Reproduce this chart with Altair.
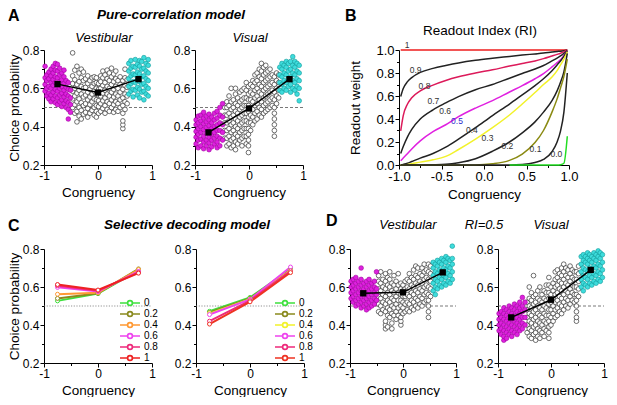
import altair as alt
import pandas as pd

FONT = "Liberation Sans"

# ---------------- Panel A : pure-correlation model (congruency, [choice probabilities]) -------------
A_VEST_MAG = [
    (-0.98, [0.585, 0.62, 0.655, 0.715]),
    (-0.95, [0.56, 0.60, 0.64, 0.67]),
    (-0.91, [0.545, 0.575, 0.61, 0.65, 0.685]),
    (-0.87, [0.53, 0.565, 0.60, 0.63, 0.665, 0.70]),
    (-0.83, [0.545, 0.58, 0.615, 0.645, 0.68, 0.715]),
    (-0.79, [0.525, 0.56, 0.595, 0.63, 0.66, 0.695, 0.73]),
    (-0.75, [0.515, 0.55, 0.585, 0.62, 0.655, 0.69, 0.725]),
    (-0.71, [0.53, 0.565, 0.60, 0.635, 0.67, 0.705]),
    (-0.67, [0.505, 0.54, 0.575, 0.61, 0.645, 0.68]),
    (-0.63, [0.52, 0.555, 0.59, 0.625, 0.66, 0.695]),
    (-0.59, [0.50, 0.535, 0.57, 0.605, 0.64]),
    (-0.55, [0.44, 0.49, 0.525, 0.56, 0.595, 0.63]),
    (-0.51, [0.475, 0.515, 0.55, 0.59]),
]
A_VEST_OPEN = [
    (-0.47, [0.50, 0.545, 0.585, 0.625, 0.665, 0.785]),
    (-0.43, [0.47, 0.515, 0.56, 0.60, 0.645, 0.695]),
    (-0.39, [0.425, 0.48, 0.53, 0.575, 0.62, 0.715]),
    (-0.35, [0.455, 0.50, 0.545, 0.59, 0.635, 0.68]),
    (-0.31, [0.44, 0.485, 0.525, 0.57, 0.61, 0.655, 0.70]),
    (-0.27, [0.465, 0.51, 0.555, 0.60, 0.64, 0.685]),
    (-0.23, [0.475, 0.52, 0.565, 0.605, 0.65]),
    (-0.19, [0.45, 0.495, 0.54, 0.58, 0.625, 0.665]),
    (-0.15, [0.47, 0.515, 0.555, 0.595, 0.64]),
    (-0.11, [0.485, 0.53, 0.57, 0.61, 0.655]),
    (-0.07, [0.46, 0.50, 0.545, 0.585, 0.625, 0.66]),
    (-0.03, [0.45, 0.48, 0.51, 0.54, 0.57, 0.60, 0.63, 0.655]),
    (0.01, [0.47, 0.505, 0.535, 0.565, 0.595, 0.625]),
    (0.05, [0.48, 0.52, 0.56, 0.60, 0.635, 0.665]),
    (0.09, [0.495, 0.535, 0.575, 0.615, 0.655, 0.69]),
    (0.13, [0.47, 0.51, 0.55, 0.59, 0.63, 0.67]),
    (0.17, [0.49, 0.53, 0.57, 0.61, 0.65, 0.695]),
    (0.21, [0.48, 0.52, 0.56, 0.60, 0.64, 0.68]),
    (0.25, [0.50, 0.54, 0.58, 0.62, 0.66, 0.705]),
    (0.29, [0.475, 0.515, 0.555, 0.595, 0.635, 0.675]),
    (0.33, [0.49, 0.53, 0.57, 0.61, 0.65, 0.69]),
    (0.37, [0.48, 0.52, 0.56, 0.60, 0.64]),
    (0.41, [0.50, 0.54, 0.58, 0.62, 0.66]),
    (0.46, [0.39, 0.41, 0.43, 0.47, 0.51, 0.55, 0.595, 0.64]),
    (0.50, [0.49, 0.53, 0.57, 0.615, 0.655, 0.70]),
    (0.54, [0.52, 0.56, 0.605, 0.645]),
]
A_VEST_CYAN = [
    (0.57, [0.57, 0.61, 0.65, 0.69, 0.73]),
    (0.61, [0.585, 0.625, 0.665, 0.705, 0.745]),
    (0.65, [0.555, 0.595, 0.635, 0.675, 0.715]),
    (0.69, [0.59, 0.63, 0.67, 0.71, 0.75]),
    (0.73, [0.565, 0.605, 0.645, 0.685, 0.725]),
    (0.77, [0.55, 0.595, 0.635, 0.675, 0.715, 0.745]),
    (0.81, [0.58, 0.62, 0.66, 0.70, 0.74]),
    (0.85, [0.54, 0.585, 0.625, 0.665, 0.705, 0.76]),
    (0.89, [0.57, 0.61, 0.65, 0.69, 0.73]),
    (0.93, [0.56, 0.60, 0.64, 0.68, 0.72, 0.75]),
]
A_VEST_MEAN = [0.622, 0.578, 0.648]

A_VIS_MAG = [
    (-0.98, [0.31, 0.345, 0.375, 0.41, 0.435]),
    (-0.94, [0.29, 0.33, 0.36, 0.39, 0.42, 0.455]),
    (-0.89, [0.30, 0.335, 0.37, 0.40, 0.43, 0.46]),
    (-0.84, [0.285, 0.32, 0.35, 0.385, 0.415, 0.445, 0.475]),
    (-0.79, [0.30, 0.33, 0.365, 0.395, 0.425, 0.455]),
    (-0.74, [0.28, 0.315, 0.345, 0.375, 0.405, 0.435, 0.465]),
    (-0.69, [0.295, 0.33, 0.36, 0.39, 0.42, 0.45]),
    (-0.64, [0.31, 0.34, 0.37, 0.40, 0.435, 0.47]),
    (-0.59, [0.29, 0.32, 0.35, 0.38, 0.41, 0.445, 0.48]),
    (-0.54, [0.30, 0.34, 0.38, 0.42, 0.46, 0.50]),
    (-0.49, [0.33, 0.37, 0.41, 0.45, 0.52]),
]
A_VIS_OPEN = [
    (-0.45, [0.34, 0.38, 0.42, 0.46, 0.50]),
    (-0.41, [0.30, 0.34, 0.38, 0.42, 0.46, 0.50, 0.53]),
    (-0.37, [0.31, 0.35, 0.39, 0.43, 0.47, 0.51, 0.56]),
    (-0.33, [0.29, 0.33, 0.37, 0.41, 0.45, 0.49, 0.53, 0.60]),
    (-0.29, [0.30, 0.34, 0.38, 0.42, 0.46, 0.50, 0.54]),
    (-0.25, [0.28, 0.32, 0.36, 0.40, 0.44, 0.48, 0.52, 0.57, 0.60]),
    (-0.21, [0.31, 0.35, 0.39, 0.43, 0.47, 0.51, 0.55]),
    (-0.17, [0.33, 0.37, 0.41, 0.45, 0.49, 0.53, 0.58]),
    (-0.13, [0.30, 0.34, 0.38, 0.42, 0.46, 0.50, 0.54, 0.59]),
    (-0.09, [0.35, 0.39, 0.43, 0.47, 0.51, 0.55, 0.60]),
    (-0.05, [0.31, 0.35, 0.39, 0.43, 0.47, 0.51, 0.55, 0.59, 0.63]),
    (-0.01, [0.265, 0.30, 0.33, 0.36, 0.39, 0.42, 0.45, 0.48, 0.51, 0.54, 0.57, 0.61]),
    (0.03, [0.38, 0.42, 0.46, 0.50, 0.54, 0.58, 0.62]),
    (0.07, [0.41, 0.45, 0.49, 0.53, 0.57, 0.61, 0.64]),
    (0.11, [0.43, 0.47, 0.51, 0.55, 0.59, 0.63, 0.67]),
    (0.15, [0.44, 0.48, 0.52, 0.56, 0.60, 0.64, 0.68]),
    (0.19, [0.46, 0.50, 0.54, 0.58, 0.62, 0.66, 0.70]),
    (0.23, [0.45, 0.49, 0.53, 0.57, 0.61, 0.65, 0.69, 0.73]),
    (0.27, [0.47, 0.51, 0.55, 0.59, 0.63, 0.67, 0.71]),
    (0.31, [0.48, 0.52, 0.56, 0.60, 0.64, 0.68, 0.72]),
    (0.35, [0.49, 0.53, 0.57, 0.61, 0.65, 0.69]),
    (0.39, [0.50, 0.54, 0.58, 0.62, 0.66, 0.70]),
    (0.43, [0.51, 0.55, 0.59, 0.63, 0.67]),
    (0.47, [0.35, 0.38, 0.41, 0.44, 0.47, 0.50, 0.54, 0.58, 0.62, 0.66]),
    (0.51, [0.52, 0.56, 0.60, 0.64, 0.68]),
    (0.55, [0.55, 0.59, 0.63, 0.67]),
]
A_VIS_CYAN = [
    (0.57, [0.59, 0.63, 0.67, 0.71]),
    (0.61, [0.58, 0.62, 0.66, 0.70, 0.73]),
    (0.65, [0.60, 0.64, 0.68, 0.72]),
    (0.69, [0.59, 0.63, 0.67, 0.71, 0.74]),
    (0.73, [0.61, 0.65, 0.69, 0.73]),
    (0.77, [0.58, 0.62, 0.66, 0.70, 0.74]),
    (0.81, [0.60, 0.64, 0.68, 0.72, 0.765]),
    (0.85, [0.59, 0.63, 0.67, 0.71, 0.74]),
    (0.89, [0.57, 0.61, 0.65, 0.69, 0.73]),
    (0.93, [0.535, 0.60, 0.64, 0.68, 0.72]),
]
A_VIS_MEAN = [0.37, 0.495, 0.648]

# ---------------- Panel D : RI = 0.5 ----------------
D_VEST_MAG = [
    (-0.98, [0.54, 0.57, 0.60, 0.63]),
    (-0.94, [0.52, 0.55, 0.58, 0.61, 0.64]),
    (-0.89, [0.50, 0.53, 0.56, 0.59, 0.62, 0.65]),
    (-0.84, [0.51, 0.54, 0.57, 0.60, 0.63]),
    (-0.79, [0.49, 0.52, 0.55, 0.58, 0.61, 0.64, 0.70]),
    (-0.74, [0.50, 0.53, 0.56, 0.59, 0.62]),
    (-0.69, [0.48, 0.51, 0.54, 0.57, 0.60, 0.63]),
    (-0.64, [0.49, 0.52, 0.55, 0.58, 0.61, 0.64]),
    (-0.59, [0.50, 0.53, 0.56, 0.59, 0.62]),
    (-0.54, [0.51, 0.54, 0.57, 0.60, 0.63]),
    (-0.50, [0.53, 0.56, 0.59, 0.68]),
]
D_VEST_OPEN = [
    (-0.46, [0.47, 0.51, 0.55, 0.59, 0.63, 0.66]),
    (-0.42, [0.46, 0.50, 0.54, 0.58, 0.62, 0.68]),
    (-0.38, [0.48, 0.52, 0.56, 0.60, 0.64]),
    (-0.33, [0.38, 0.40, 0.42, 0.47, 0.51, 0.55, 0.59, 0.63, 0.67]),
    (-0.29, [0.39, 0.45, 0.49, 0.53, 0.57, 0.61, 0.65]),
    (-0.25, [0.44, 0.48, 0.52, 0.56, 0.60, 0.64, 0.68]),
    (-0.21, [0.38, 0.41, 0.46, 0.50, 0.54, 0.58, 0.62]),
    (-0.17, [0.45, 0.49, 0.53, 0.57, 0.61, 0.66]),
    (-0.13, [0.43, 0.47, 0.51, 0.55, 0.59, 0.63]),
    (-0.09, [0.45, 0.49, 0.53, 0.57, 0.61, 0.67]),
    (-0.04, [0.40, 0.42, 0.44, 0.47, 0.50, 0.53, 0.56, 0.59, 0.62]),
    (0.00, [0.46, 0.49, 0.52, 0.55, 0.58, 0.61]),
    (0.04, [0.47, 0.51, 0.55, 0.59, 0.63]),
    (0.08, [0.48, 0.52, 0.56, 0.60, 0.64]),
    (0.12, [0.47, 0.51, 0.55, 0.59, 0.63, 0.67]),
    (0.16, [0.49, 0.53, 0.57, 0.61, 0.65]),
    (0.20, [0.48, 0.52, 0.56, 0.60, 0.64, 0.69]),
    (0.24, [0.50, 0.54, 0.58, 0.62, 0.66, 0.71]),
    (0.28, [0.49, 0.53, 0.57, 0.61, 0.65, 0.70]),
    (0.32, [0.51, 0.55, 0.59, 0.63, 0.67]),
    (0.36, [0.50, 0.54, 0.58, 0.62, 0.66, 0.70]),
    (0.40, [0.52, 0.56, 0.60, 0.64, 0.68, 0.72]),
    (0.44, [0.53, 0.57, 0.61, 0.65, 0.69]),
    (0.48, [0.44, 0.47, 0.50, 0.53, 0.56, 0.60, 0.64, 0.68, 0.72]),
    (0.52, [0.55, 0.59, 0.63, 0.67, 0.71]),
]
D_VEST_CYAN = [
    (0.57, [0.58, 0.62, 0.66, 0.70, 0.73]),
    (0.61, [0.56, 0.60, 0.64, 0.68, 0.72]),
    (0.65, [0.59, 0.63, 0.67, 0.71, 0.74]),
    (0.69, [0.61, 0.65, 0.69, 0.73]),
    (0.73, [0.60, 0.64, 0.68, 0.72, 0.75]),
    (0.77, [0.62, 0.66, 0.70, 0.74]),
    (0.81, [0.61, 0.65, 0.69, 0.73, 0.76]),
    (0.85, [0.63, 0.67, 0.71, 0.75]),
    (0.89, [0.62, 0.66, 0.70, 0.74]),
    (0.93, [0.64, 0.68, 0.72, 0.75, 0.815]),
]
D_VEST_MEAN = [0.567, 0.572, 0.677]

D_VIS_MAG = [
    (-0.98, [0.37, 0.40, 0.43, 0.46]),
    (-0.94, [0.35, 0.38, 0.41, 0.44, 0.47]),
    (-0.89, [0.32, 0.34, 0.37, 0.40, 0.43, 0.46, 0.49]),
    (-0.84, [0.33, 0.36, 0.39, 0.42, 0.45, 0.48]),
    (-0.79, [0.35, 0.38, 0.41, 0.44, 0.47, 0.50]),
    (-0.74, [0.34, 0.37, 0.40, 0.43, 0.46, 0.49]),
    (-0.69, [0.36, 0.39, 0.42, 0.45, 0.48, 0.51]),
    (-0.64, [0.35, 0.38, 0.41, 0.44, 0.47, 0.50]),
    (-0.59, [0.37, 0.40, 0.43, 0.46, 0.49, 0.52]),
    (-0.54, [0.38, 0.41, 0.44, 0.47, 0.50, 0.545]),
    (-0.49, [0.40, 0.44, 0.48, 0.52]),
]
D_VIS_OPEN = [
    (-0.45, [0.36, 0.40, 0.44, 0.48, 0.52]),
    (-0.41, [0.34, 0.38, 0.42, 0.46, 0.50, 0.54, 0.60]),
    (-0.37, [0.33, 0.37, 0.41, 0.45, 0.49, 0.53, 0.57]),
    (-0.33, [0.35, 0.39, 0.43, 0.47, 0.51, 0.55, 0.66]),
    (-0.29, [0.32, 0.36, 0.40, 0.44, 0.48, 0.52, 0.56]),
    (-0.25, [0.34, 0.38, 0.42, 0.46, 0.50, 0.54, 0.58]),
    (-0.21, [0.33, 0.37, 0.41, 0.45, 0.49, 0.53, 0.60]),
    (-0.17, [0.36, 0.40, 0.44, 0.48, 0.52, 0.56]),
    (-0.13, [0.34, 0.38, 0.42, 0.46, 0.50, 0.54, 0.58]),
    (-0.09, [0.37, 0.41, 0.45, 0.49, 0.53, 0.57, 0.61]),
    (-0.04, [0.33, 0.36, 0.39, 0.42, 0.45, 0.48, 0.51, 0.54, 0.57, 0.61, 0.65]),
    (0.00, [0.40, 0.44, 0.48, 0.52, 0.56, 0.60]),
    (0.04, [0.42, 0.46, 0.50, 0.54, 0.58, 0.62]),
    (0.08, [0.44, 0.48, 0.52, 0.56, 0.60, 0.64, 0.68]),
    (0.12, [0.45, 0.49, 0.53, 0.57, 0.61, 0.65, 0.69]),
    (0.16, [0.47, 0.51, 0.55, 0.59, 0.63, 0.67]),
    (0.20, [0.46, 0.50, 0.54, 0.58, 0.62, 0.66, 0.70]),
    (0.24, [0.48, 0.52, 0.56, 0.60, 0.64, 0.68, 0.72]),
    (0.28, [0.50, 0.54, 0.58, 0.62, 0.66, 0.70]),
    (0.32, [0.49, 0.53, 0.57, 0.61, 0.65, 0.69]),
    (0.36, [0.51, 0.55, 0.59, 0.63, 0.67, 0.71]),
    (0.40, [0.53, 0.57, 0.61, 0.65, 0.69]),
    (0.44, [0.52, 0.56, 0.60, 0.64, 0.68]),
    (0.48, [0.42, 0.44, 0.47, 0.50, 0.53, 0.56, 0.60, 0.64, 0.68]),
    (0.52, [0.55, 0.59, 0.63, 0.67, 0.71]),
]
D_VIS_CYAN = [
    (0.57, [0.60, 0.64, 0.68, 0.72, 0.76]),
    (0.61, [0.58, 0.62, 0.66, 0.70, 0.74, 0.77]),
    (0.65, [0.61, 0.65, 0.69, 0.73, 0.76]),
    (0.69, [0.60, 0.64, 0.68, 0.72, 0.75, 0.78]),
    (0.73, [0.62, 0.66, 0.70, 0.74, 0.77]),
    (0.77, [0.61, 0.65, 0.69, 0.73, 0.76]),
    (0.81, [0.63, 0.67, 0.71, 0.75, 0.78]),
    (0.85, [0.62, 0.66, 0.70, 0.74, 0.77]),
    (0.89, [0.64, 0.68, 0.72, 0.76, 0.79]),
    (0.93, [0.63, 0.67, 0.71, 0.75, 0.78]),
    (0.97, [0.65, 0.69, 0.73, 0.77]),
]
D_VIS_MEAN = [0.44, 0.533, 0.69]

MEAN_X = [-0.75, 0.0, 0.75]

# ---------------- Panel B : readout weight curves ----------------
B_X = [-0.98, -0.95, -0.9, -0.85, -0.75, -0.6, -0.45, -0.3, -0.1, 0.1, 0.3, 0.45, 0.6, 0.7, 0.8,
       0.86, 0.9, 0.94, 0.98]
B_RI = ["1", "0.9", "0.8", "0.7", "0.6", "0.5", "0.4", "0.3", "0.2", "0.1", "0.0"]
B_COLORS = ["#ee1c1c", "#222222", "#dc1a5a", "#222222", "#e020e0", "#222222", "#f2f22a",
            "#222222", "#8a8a12", "#222222", "#22dd22"]
B_W = {
    "1":   [1.0, 1.0, 1.0, 1.0, 1.0, 1.0, 1.0, 1.0, 1.0, 1.0, 1.0, 1.0, 1.0, 1.0, 1.0, 1.0, 1.0, 1.0, 1.0],
    "0.9": [0.595, 0.665, 0.725, 0.76, 0.805, 0.84, 0.865, 0.887, 0.91, 0.928, 0.944, 0.956, 0.966,
            0.973, 0.982, 0.987, 0.99, 0.994, 1.0],
    "0.8": [0.296, 0.43, 0.53, 0.585, 0.645, 0.695, 0.735, 0.767, 0.80, 0.828, 0.86, 0.882, 0.905,
            0.925, 0.948, 0.962, 0.972, 0.984, 1.0],
    "0.7": [0.10, 0.16, 0.245, 0.31, 0.40, 0.48, 0.54, 0.595, 0.655, 0.70, 0.755, 0.795, 0.835,
            0.865, 0.905, 0.93, 0.948, 0.97, 0.995],
    "0.6": [0.037, 0.06, 0.10, 0.14, 0.21, 0.29, 0.35, 0.42, 0.495, 0.56, 0.635, 0.69, 0.75, 0.795,
            0.853, 0.89, 0.915, 0.95, 0.99],
    "0.5": [0.0, 0.005, 0.015, 0.03, 0.06, 0.10, 0.155, 0.225, 0.325, 0.43, 0.53, 0.61, 0.69, 0.75,
            0.82, 0.87, 0.905, 0.945, 0.99],
    "0.4": [0.0, 0.0, 0.004, 0.01, 0.025, 0.045, 0.075, 0.135, 0.225, 0.325, 0.435, 0.53, 0.63,
            0.70, 0.765, 0.82, 0.87, 0.92, 0.985],
    "0.3": [0.0, 0.0, 0.0, 0.0, 0.0, 0.002, 0.006, 0.02, 0.055, 0.12, 0.2, 0.28, 0.375, 0.46, 0.56,
            0.645, 0.72, 0.81, 0.97],
    "0.2": [0.0, 0.0, 0.0, 0.0, 0.0, 0.0, 0.0, 0.0, 0.0, 0.01, 0.04, 0.095, 0.195, 0.30, 0.46,
            0.575, 0.67, 0.77, 0.92],
    "0.1": [0.0, 0.0, 0.0, 0.0, 0.0, 0.0, 0.0, 0.0, 0.0, 0.0, 0.0, 0.004, 0.022, 0.048, 0.115,
            0.20, 0.295, 0.46, 0.80],
    "0.0": [None, None, None, None, None, None, None, None, None, None, 0.0, 0.0, 0.0, 0.0, 0.0,
            0.0, 0.003, 0.015, 0.25],
}
B_LAB_X = [-0.906, -0.805, -0.70, -0.595, -0.458, -0.318, -0.142, 0.041, 0.275, 0.606, 0.852]
B_LAB_Y = [1.043, 0.825, 0.69, 0.555, 0.468, 0.382, 0.307, 0.238, 0.167, 0.138, 0.098]

# ---------------- Panel C : selective decoding model ----------------
C_X = [-0.75, 0.0, 0.75]
C_RI = ["0", "0.2", "0.4", "0.6", "0.8", "1"]
C1_Y = {"0": [0.527, 0.565, 0.688], "0.2": [0.54, 0.567, 0.695], "0.4": [0.562, 0.57, 0.692],
        "0.6": [0.598, 0.576, 0.682], "0.8": [0.607, 0.58, 0.677], "1": [0.613, 0.584, 0.673]}
C2_Y = {"0": [0.472, 0.545, 0.695], "0.2": [0.466, 0.54, 0.69], "0.4": [0.46, 0.536, 0.688],
        "0.6": [0.455, 0.535, 0.705], "0.8": [0.42, 0.528, 0.685], "1": [0.405, 0.522, 0.676]}
C1_COLORS = ["#3ee03e", "#8a8a1e", "#ff9933", "#ee44ee", "#ee2a7b", "#ee2222"]
C2_COLORS = ["#3ee03e", "#8a8a1e", "#f2f22a", "#ee44ee", "#ee2a7b", "#ee3322"]

# ---------------- layout (pixel boxes of each plot area inside one 601x389 view) ----------------
VW, VH = 601, 389
R1 = (42, 157)   # top, bottom of row 1
R2 = (241, 355)  # top, bottom of row 2
BOX = {
    "a_vest": (36, 144) + R1, "a_vis": (187, 295) + R1, "b": (391, 561) + R1,
    "c1": (36, 144) + R2, "c2": (188, 296) + R2,
    "d_vest": (342, 448) + R2, "d_vis": (490, 596) + R2,
}
MAG_FILL, MAG_STROKE = "#dd22dd", "#a000a0"
CYAN_FILL, CYAN_STROKE = "#3edcdc", "#109a9a"


def expand(cols):
    xs, ys = [], []
    for x, yl in cols:
        for y in yl:
            xs.append(x)
            ys.append(y)
    return pd.DataFrame({"x": xs, "y": ys})


def scales(box, ydom):
    x0, x1, y0, y1 = box
    xs = alt.Scale(domain=[-1, 1], range=[x0, x1], nice=False, zero=False)
    ys = alt.Scale(domain=ydom, range=[y1, y0], nice=False, zero=False)
    return xs, ys


def x_axis_cp(box):
    return alt.Axis(
        values=[-1, -0.5, 0, 0.5, 1], title="Congruency", orient="bottom", offset=box[3] - VH,
        tickSize={"condition": {"test": "abs(datum.value) == 0.5", "value": 2.5}, "value": 4},
        labelExpr="abs(datum.value) == 0.5 ? '' : (datum.value < 0 ? '-' + (-datum.value) : '' + datum.value)",
    )


def y_axis_cp(box, title):
    return alt.Axis(
        values=[0.2, 0.3, 0.4, 0.5, 0.6, 0.7, 0.8], title=title if title else "", orient="left",
        offset=-box[0], titlePadding=1,
        tickSize={"condition": {"test": "indexof([0.3, 0.5, 0.7], datum.value) >= 0", "value": 2.5}, "value": 4},
        labelExpr="indexof([0.3, 0.5, 0.7], datum.value) >= 0 ? '' : format(datum.value, '.1f')",
    )


def text(t, x, y, size=13.5, weight="normal", style="normal", align="center", color="black"):
    return alt.Chart(pd.DataFrame({"t": [t]})).mark_text(
        font=FONT, fontSize=size, fontWeight=weight, fontStyle=style, align=align,
        baseline="alphabetic", color=color
    ).encode(text="t:N", x=alt.value(x), y=alt.value(y))


def scatter_panel(box, mag, opn, cyan, mean_y, ytitle):
    xs, ys = scales(box, [0.2, 0.8])
    Xa = alt.X("x:Q", scale=xs, axis=x_axis_cp(box))
    Ya = alt.Y("y:Q", scale=ys, axis=y_axis_cp(box, ytitle))
    X = alt.X("x:Q", scale=xs, axis=None)
    Y = alt.Y("y:Q", scale=ys, axis=None)
    ref = alt.Chart(pd.DataFrame({"x": [-1.0], "x2": [1.0], "y": [0.5]})).mark_rule(
        color="#555555", strokeDash=[3, 2], strokeWidth=0.8).encode(x=Xa, x2="x2:Q", y=Ya)
    o = alt.Chart(expand(opn)).mark_circle(
        size=22, color="white", stroke="#333333", strokeWidth=0.7, opacity=1).encode(x=X, y=Y)
    m = alt.Chart(expand(mag)).mark_circle(
        size=22, color=MAG_FILL, stroke=MAG_STROKE, strokeWidth=0.6, opacity=1).encode(x=X, y=Y)
    c = alt.Chart(expand(cyan)).mark_circle(
        size=22, color=CYAN_FILL, stroke=CYAN_STROKE, strokeWidth=0.6, opacity=1).encode(x=X, y=Y)
    mdf = pd.DataFrame({"x": MEAN_X, "y": mean_y})
    ml = alt.Chart(mdf).mark_line(color="black", strokeWidth=1.5).encode(x=X, y=Y)
    ms = alt.Chart(mdf).mark_square(size=40, color="black", opacity=1).encode(x=X, y=Y)
    return [ref, o, m, c, ml, ms]


LEG_PATH = "M-4,0L-2.1,0M-0.9,0L1,0M-0.9,0A0.6,0.6,0,1,1,-2.1,0A0.6,0.6,0,1,1,-0.9,0Z"


def c_panel(box, ydict, colors, legx, legy, ytitle):
    xs, ys = scales(box, [0.2, 0.8])
    Xa = alt.X("x:Q", scale=xs, axis=x_axis_cp(box))
    Ya = alt.Y("y:Q", scale=ys, axis=y_axis_cp(box, ytitle))
    X = alt.X("x:Q", scale=xs, axis=None)
    Y = alt.Y("y:Q", scale=ys, axis=None)
    rows = []
    for ri in C_RI:
        for x, y in zip(C_X, ydict[ri]):
            rows.append({"ri": ri, "x": x, "y": y})
    df = pd.DataFrame(rows)
    ref = alt.Chart(pd.DataFrame({"x": [-1.0], "x2": [1.0], "y": [0.5]})).mark_rule(
        color="#777777", strokeDash=[1.2, 1.5], strokeWidth=0.8).encode(x=Xa, x2="x2:Q", y=Ya)
    lines = alt.Chart(df).mark_line(
        strokeWidth=2,
        point=alt.OverlayMarkDef(filled=False, fill="white", size=16, strokeWidth=1, opacity=1),
    ).encode(
        x=X, y=Y,
        color=alt.Color("ri:N", sort=C_RI, scale=alt.Scale(domain=C_RI, range=colors),
                        legend=alt.Legend(orient="none", legendX=legx, legendY=legy, title=None,
                                          symbolType=LEG_PATH, symbolSize=64, symbolStrokeWidth=1.7,
                                          symbolFillColor="white", labelFontSize=10, labelFont=FONT,
                                          labelOffset=3, rowPadding=-1, padding=0,
                                          labelColor="black")),
    )
    return [ref, lines]


def b_panel(box):
    x0, x1, y0, y1 = box
    xa = alt.Axis(
        values=[-1, -0.75, -0.5, -0.25, 0, 0.25, 0.5, 0.75, 1], title="Congruency", labelFontSize=13,
        orient="bottom", offset=y1 - VH,
        tickSize={"condition": {"test": "indexof([-0.75, -0.25, 0.25, 0.75], datum.value) >= 0",
                                "value": 2.5}, "value": 4},
        labelExpr="indexof([-0.75, -0.25, 0.25, 0.75], datum.value) >= 0 ? '' : "
                  "(datum.value < 0 ? '-' + format(-datum.value, '.1f') : format(datum.value, '.1f'))",
    )
    ya = alt.Axis(
        values=[0.0, 0.1, 0.2, 0.3, 0.4, 0.5, 0.6, 0.7, 0.8, 0.9, 1.0], title="Readout weight",
        labelFontSize=13, titlePadding=13, orient="left", offset=-x0,
        tickSize={"condition": {"test": "indexof([0.1, 0.3, 0.5, 0.7, 0.9], datum.value) >= 0",
                                "value": 2.5}, "value": 4},
        labelExpr="indexof([0.1, 0.3, 0.5, 0.7, 0.9], datum.value) >= 0 ? '' : format(datum.value, '.1f')",
    )
    xs, ys = scales(box, [0, 1])
    Xa = alt.X("x:Q", scale=xs, axis=xa)
    Ya = alt.Y("y:Q", scale=ys, axis=ya)
    X = alt.X("x:Q", scale=xs, axis=None)
    Y = alt.Y("y:Q", scale=ys, axis=None)
    rows = []
    for k, ri in enumerate(B_RI):
        for x, y in zip(B_X, B_W[ri]):
            if y is not None:
                rows.append({"ri": ri, "k": k, "x": x, "y": y})
    df = pd.DataFrame(rows)
    curves = alt.Chart(df).mark_line(strokeWidth=1.5, interpolate="monotone").encode(
        x=Xa, y=Ya, detail="ri:N",
        color=alt.Color("ri:N", sort=B_RI, scale=alt.Scale(domain=B_RI, range=B_COLORS), legend=None),
    )
    lab = pd.DataFrame({"t": B_RI, "x": B_LAB_X, "y": B_LAB_Y})
    lab_gray = alt.Chart(lab[lab.t != "0.5"]).mark_text(
        font=FONT, fontSize=8.5, color="#333333").encode(x=X, y=Y, text="t:N")
    lab_blue = alt.Chart(lab[lab.t == "0.5"]).mark_text(
        font=FONT, fontSize=8.5, color="#2c2ccc").encode(x=X, y=Y, text="t:N")
    return [curves, lab_gray, lab_blue]


BIG = dict(size=16, weight="bold", align="left")
HEAD = dict(size=13.5, weight="bold", style="italic")
SUB = dict(size=13, style="italic")

layers = []
layers += scatter_panel(BOX["a_vest"], A_VEST_MAG, A_VEST_OPEN, A_VEST_CYAN, A_VEST_MEAN, "Choice probability")
layers += scatter_panel(BOX["a_vis"], A_VIS_MAG, A_VIS_OPEN, A_VIS_CYAN, A_VIS_MEAN, None)
layers += b_panel(BOX["b"])
layers += c_panel(BOX["c1"], C1_Y, C1_COLORS, 123, 290, "Choice probability")
layers += c_panel(BOX["c2"], C2_Y, C2_COLORS, 278, 290, None)
layers += scatter_panel(BOX["d_vest"], D_VEST_MAG, D_VEST_OPEN, D_VEST_CYAN, D_VEST_MEAN, None)
layers += scatter_panel(BOX["d_vis"], D_VIS_MAG, D_VIS_OPEN, D_VIS_CYAN, D_VIS_MEAN, None)

layers += [
    text("A", 0, 13, **BIG),
    text("Pure-correlation model", 163, 11, **HEAD),
    text("Vestibular", 96, 34, **SUB),
    text("Visual", 242, 34, **SUB),
    text("B", 337, 13, **BIG),
    text("Readout Index (RI)", 472, 27, size=13.5),
    text("C", 0, 223, **BIG),
    text("Selective decoding model", 179, 221, **HEAD),
    text("D", 318, 218, **BIG),
    text("Vestibular", 400, 221, **SUB),
    text("RI=0.5", 476, 221, **SUB),
    text("Visual", 543, 221, **SUB),
]

chart = alt.layer(*layers).resolve_scale(
    x="independent", y="independent", color="independent"
).resolve_axis(x="independent", y="independent").properties(
    width=VW, height=VH, padding=0, background="white",
    autosize=alt.AutoSizeParams(type="none"),
).configure_view(stroke=None).configure_axis(
    domainColor="black", tickColor="black", labelColor="black", titleColor="black",
    labelFont=FONT, titleFont=FONT, labelFontSize=12, titleFontSize=13.5, titleFontWeight="normal",
    grid=False, tickSize=4, labelPadding=1, titlePadding=4, labelFlush=False, labelOverlap=False,
    domainWidth=1, tickWidth=1,
).configure_text(font=FONT)

chart.save("out.html", embed_options={"renderer": "svg", "actions": False})
